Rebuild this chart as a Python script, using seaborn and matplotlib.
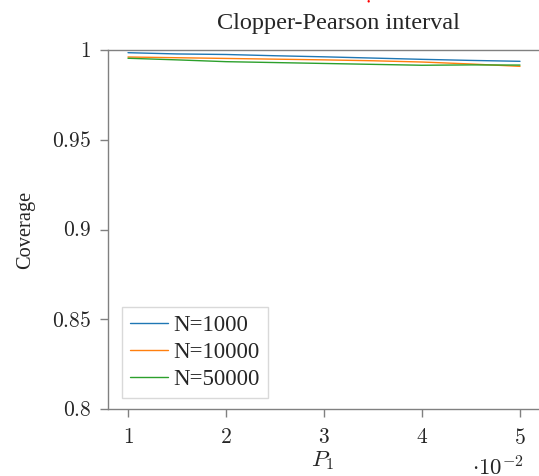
import matplotlib
matplotlib.use("Agg")
import matplotlib.pyplot as plt
import seaborn as sns
import pandas as pd

p1 = [1.0, 1.5, 2.0, 2.5, 3.0, 3.5, 4.0, 4.5, 5.0]
cov_n1000 = [0.9985, 0.9978, 0.9975, 0.9968, 0.9962, 0.9955, 0.9948, 0.9942, 0.9937]
cov_n10000 = [0.9961, 0.9957, 0.9953, 0.9949, 0.9945, 0.9940, 0.9933, 0.9922, 0.9909]
cov_n50000 = [0.9954, 0.9945, 0.9935, 0.9930, 0.9925, 0.9920, 0.9915, 0.9917, 0.9916]
series_names = ["N=1000", "N=10000", "N=50000"]
x_ticks = [1, 2, 3, 4, 5]
y_ticks = [0.8, 0.85, 0.9, 0.95, 1.0]
y_tick_labels = ["0.8", "0.85", "0.9", "0.95", "1"]

df = pd.DataFrame({
    "P1": p1 * 3,
    "Coverage": cov_n1000 + cov_n10000 + cov_n50000,
    "N": [series_names[0]] * len(p1) + [series_names[1]] * len(p1) + [series_names[2]] * len(p1),
})

sns.set_style("ticks")
plt.rcParams["font.family"] = ["Liberation Serif", "DejaVu Serif"]
plt.rcParams["mathtext.fontset"] = "cm"

fig = plt.figure(figsize=(5.39, 4.76), dpi=100)
ax = fig.add_axes([108 / 539, 1 - 409 / 476, 1 - 108 / 539, (409 - 50) / 476])

palette = ["#1f77b4", "#ff7f0e", "#2ca02c"]
sns.lineplot(data=df, x="P1", y="Coverage", hue="N", palette=palette, ax=ax, linewidth=1.0, legend=True)

ax.set_xlim(1 - 20 / 98, 1 - 20 / 98 + 431 / 98)
ax.set_ylim(0.8, 1.0)
ax.set_xticks(x_ticks)
ax.set_xticklabels([f"${t}$" for t in x_ticks], fontsize=15.5)
ax.set_yticks(y_ticks)
ax.set_yticklabels([f"${t}$" for t in y_tick_labels], fontsize=15.5)
for s in ["left", "bottom", "top"]:
    ax.spines[s].set_color("#808080")
    ax.spines[s].set_linewidth(1.0)
ax.spines["right"].set_visible(False)
ax.tick_params(axis="both", direction="out", length=6, width=1.0, color="#808080", pad=6)
ax.tick_params(axis="x", pad=8.5)
ax.set_xlabel("")
ax.set_ylabel("Coverage", fontsize=14.7, labelpad=12)

fig.text(323 / 539, 1 - 461 / 476, r"$P_1$", fontsize=16.5, ha="center", va="center")
fig.text(498 / 539, 1 - 468 / 476, r"$\cdot 10^{-2}$", fontsize=16.5, ha="center", va="center")
fig.text(338 / 539, 1 - 23 / 476, "Clopper-Pearson interval", fontsize=17.5, ha="center", va="center")
fig.text(368 / 539, 1 - 1 / 476, "\u25cf", fontsize=4, color="red", ha="center", va="center")

leg = ax.legend(loc="lower left", bbox_to_anchor=(14 / 431, 11 / 359), fontsize=16.5, frameon=True,
                fancybox=False, edgecolor="#d0d0d0", handlelength=1.66, handletextpad=0.22,
                labelspacing=0.26, borderpad=0.35, borderaxespad=0)
leg.get_frame().set_linewidth(1.0)

fig.savefig("out.png", dpi=100)
